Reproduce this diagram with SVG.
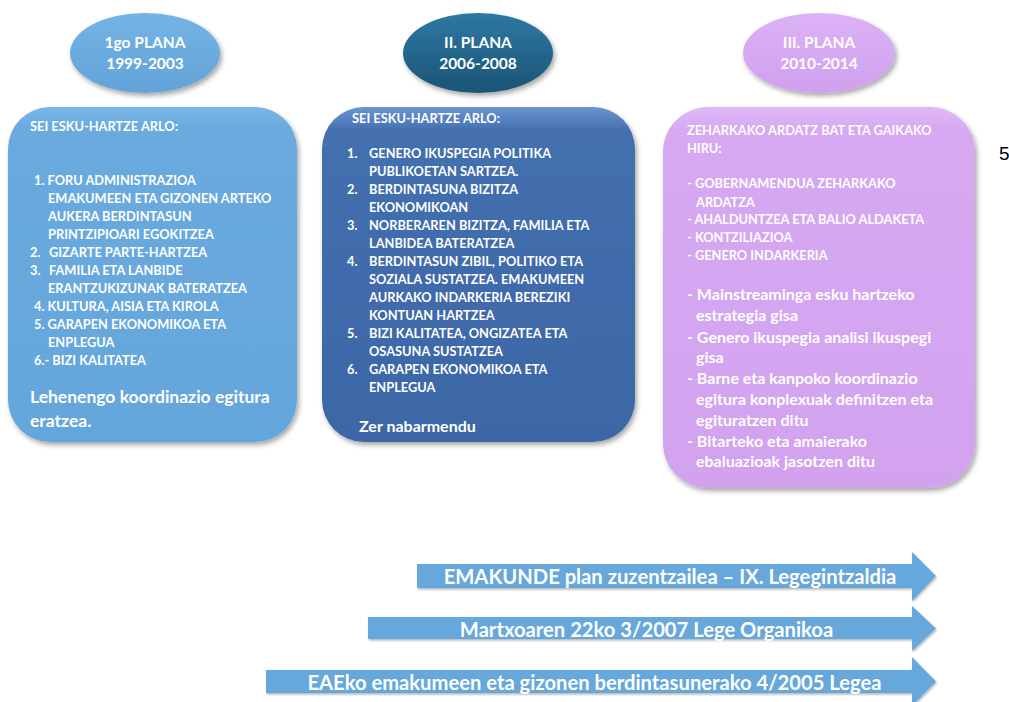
<svg xmlns="http://www.w3.org/2000/svg" width="1009" height="702" viewBox="0 0 1009 702">
<defs>
<linearGradient id="gB1" x1="0" y1="0" x2="0" y2="1"><stop offset="0" stop-color="#78b6e6"/><stop offset="0.06" stop-color="#6aaade"/><stop offset="1" stop-color="#64a6db"/></linearGradient>
<linearGradient id="gB2" x1="0" y1="0" x2="0" y2="1"><stop offset="0" stop-color="#6a95d0"/><stop offset="0.07" stop-color="#4470b0"/><stop offset="1" stop-color="#3c66a6"/></linearGradient>
<linearGradient id="gB3" x1="0" y1="0" x2="0" y2="1"><stop offset="0" stop-color="#e0b8f7"/><stop offset="0.06" stop-color="#d6a9f2"/><stop offset="1" stop-color="#d2a2ef"/></linearGradient>
<linearGradient id="gE1" x1="0" y1="0" x2="0" y2="1"><stop offset="0" stop-color="#74b3e4"/><stop offset="1" stop-color="#62a3d9"/></linearGradient>
<linearGradient id="gE2" x1="0" y1="0" x2="0" y2="1"><stop offset="0" stop-color="#2e78a2"/><stop offset="1" stop-color="#1b5476"/></linearGradient>
<linearGradient id="gE3" x1="0" y1="0" x2="0" y2="1"><stop offset="0" stop-color="#dcb2f6"/><stop offset="1" stop-color="#cfa0ee"/></linearGradient>
<filter id="sh" x="-10%" y="-10%" width="125%" height="125%"><feDropShadow dx="2" dy="3" stdDeviation="2.5" flood-color="#000" flood-opacity="0.35"/></filter>
<filter id="shA" x="-5%" y="-20%" width="110%" height="150%"><feDropShadow dx="1" dy="1.5" stdDeviation="1" flood-color="#000" flood-opacity="0.3"/></filter>
</defs>
<style>
text{font-family:Lato,"Open Sans","Liberation Sans",sans-serif;font-weight:bold;fill:#fff}
.s{font-size:12.8px}
.m{font-size:16px}
.l{font-size:17.5px}
.h{font-size:15.5px}
.a{font-size:20.2px}
.c{text-anchor:middle}
.arr{fill:#66a8dc;filter:url(#shA)}
</style>
<rect width="1009" height="702" fill="#fff"/>

<g id="plan1-title">
<ellipse cx="145" cy="53" rx="75" ry="40" fill="url(#gE1)" filter="url(#sh)"/>
<text class="h c" x="145" y="48">1go PLANA</text>
<text class="h c" x="145" y="69">1999-2003</text>
</g>
<g id="plan2-title">
<ellipse cx="478" cy="53" rx="75" ry="40" fill="url(#gE2)" filter="url(#sh)"/>
<text class="h c" x="478" y="48">II. PLANA</text>
<text class="h c" x="478" y="69">2006-2008</text>
</g>
<g id="plan3-title">
<ellipse cx="819" cy="53" rx="76" ry="40" fill="url(#gE3)" filter="url(#sh)"/>
<text class="h c" x="819" y="48">III. PLANA</text>
<text class="h c" x="819" y="69">2010-2014</text>
</g>

<g id="plan1-box">
<rect x="8" y="107" width="289" height="335" rx="42" fill="url(#gB1)" filter="url(#sh)"/>
<text class="s" x="30" y="131">SEI ESKU-HARTZE ARLO:</text>
<text class="s" x="34" y="185">1. FORU ADMINISTRAZIOA</text>
<text class="s" x="48" y="203">EMAKUMEEN ETA GIZONEN ARTEKO</text>
<text class="s" x="48" y="221">AUKERA BERDINTASUN</text>
<text class="s" x="48" y="239">PRINTZIPIOARI EGOKITZEA</text>
<text class="s" x="30" y="257">2.</text><text class="s" x="49" y="257">GIZARTE PARTE-HARTZEA</text>
<text class="s" x="30" y="275">3.</text><text class="s" x="49" y="275">FAMILIA ETA LANBIDE</text>
<text class="s" x="48" y="293">ERANTZUKIZUNAK BATERATZEA</text>
<text class="s" x="34" y="311">4. KULTURA, AISIA ETA KIROLA</text>
<text class="s" x="34" y="329">5. GARAPEN EKONOMIKOA ETA</text>
<text class="s" x="48" y="347">ENPLEGUA</text>
<text class="s" x="34" y="365">6.- BIZI KALITATEA</text>
<text class="l" x="30" y="403">Lehenengo koordinazio egitura</text>
<text class="l" x="30" y="427">eratzea.</text>
</g>

<g id="plan2-box">
<rect x="322" y="107" width="313" height="335" rx="42" fill="url(#gB2)" filter="url(#sh)"/>
<text class="s" x="352" y="123">SEI ESKU-HARTZE ARLO:</text>
<text class="s" x="347" y="158">1.</text><text class="s" x="369" y="158">GENERO IKUSPEGIA POLITIKA</text>
<text class="s" x="369" y="176">PUBLIKOETAN SARTZEA.</text>
<text class="s" x="347" y="194">2.</text><text class="s" x="369" y="194">BERDINTASUNA BIZITZA</text>
<text class="s" x="369" y="212">EKONOMIKOAN</text>
<text class="s" x="347" y="230">3.</text><text class="s" x="369" y="230">NORBERAREN BIZITZA, FAMILIA ETA</text>
<text class="s" x="369" y="248">LANBIDEA BATERATZEA</text>
<text class="s" x="347" y="266">4.</text><text class="s" x="369" y="266">BERDINTASUN ZIBIL, POLITIKO ETA</text>
<text class="s" x="369" y="284">SOZIALA SUSTATZEA. EMAKUMEEN</text>
<text class="s" x="369" y="302">AURKAKO INDARKERIA BEREZIKI</text>
<text class="s" x="369" y="320">KONTUAN HARTZEA</text>
<text class="s" x="347" y="338">5.</text><text class="s" x="369" y="338">BIZI KALITATEA, ONGIZATEA ETA</text>
<text class="s" x="369" y="356">OSASUNA SUSTATZEA</text>
<text class="s" x="347" y="374">6.</text><text class="s" x="369" y="374">GARAPEN EKONOMIKOA ETA</text>
<text class="s" x="369" y="392">ENPLEGUA</text>
<text class="m" x="359" y="432">Zer nabarmendu</text>
</g>

<g id="plan3-box">
<rect x="663" y="107" width="312" height="381" rx="45" fill="url(#gB3)" filter="url(#sh)"/>
<text class="s" x="687" y="135">ZEHARKAKO ARDATZ BAT ETA GAIKAKO</text>
<text class="s" x="687" y="153">HIRU:</text>
<text class="s" x="687" y="188">- GOBERNAMENDUA ZEHARKAKO</text>
<text class="s" x="696" y="207">ARDATZA</text>
<text class="s" x="687" y="224">- AHALDUNTZEA ETA BALIO ALDAKETA</text>
<text class="s" x="687" y="242">- KONTZILIAZIOA</text>
<text class="s" x="687" y="260">- GENERO INDARKERIA</text>
<text class="m" x="687" y="300">- Mainstreaminga esku hartzeko</text>
<text class="m" x="696" y="321">estrategia gisa</text>
<text class="m" x="687" y="343">- Genero ikuspegia analisi ikuspegi</text>
<text class="m" x="696" y="363">gisa</text>
<text class="m" x="687" y="384">- Barne eta kanpoko koordinazio</text>
<text class="m" x="696" y="405">egitura konplexuak definitzen eta</text>
<text class="m" x="696" y="426">egituratzen ditu</text>
<text class="m" x="687" y="447">- Bitarteko eta amaierako</text>
<text class="m" x="696" y="467">ebaluazioak jasotzen ditu</text>
</g>

<text x="999" y="160" style="font-family:'Liberation Sans',Arial,sans-serif;font-weight:normal;font-size:19px;fill:#000">5</text>

<g id="arrows">
<g id="arrow-emakunde">
<polygon class="arr" points="417,564 912,564 912,552 936,576 912,601 912,588 417,588"/>
<text class="a c" x="670" y="584">EMAKUNDE plan zuzentzailea – IX. Legegintzaldia</text>
</g>
<g id="arrow-3-2007">
<polygon class="arr" points="368,617 912,617 912,606 936,628.5 912,651 912,639 368,639"/>
<text class="a c" x="646.5" y="637">Martxoaren 22ko 3/2007 Lege Organikoa</text>
</g>
<g id="arrow-4-2005">
<polygon class="arr" points="266,670 912,670 912,657 936,681.5 912,706 912,693 266,693"/>
<text class="a c" x="594.5" y="690">EAEko emakumeen eta gizonen berdintasunerako 4/2005 Legea</text>
</g>
</g>
</svg>
